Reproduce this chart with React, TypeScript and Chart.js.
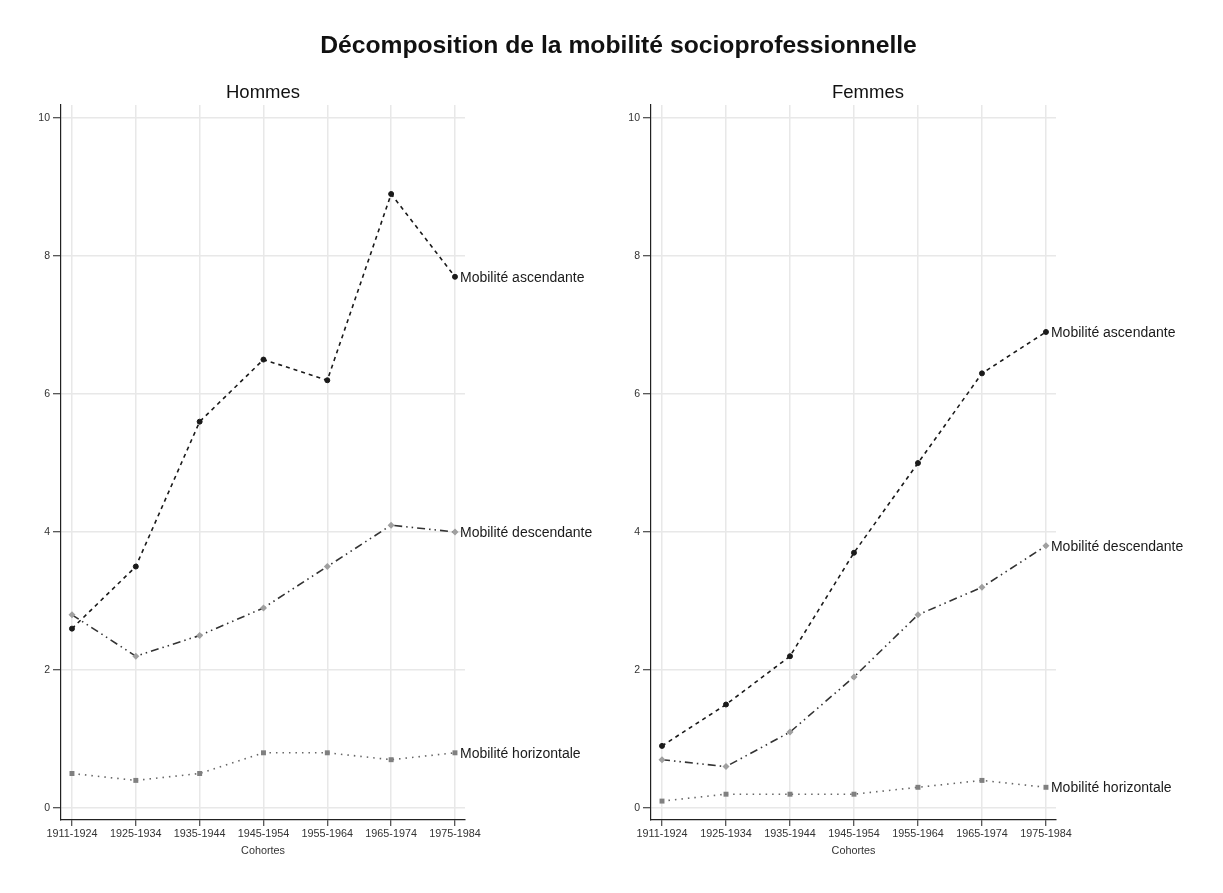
import React, { useEffect, useRef } from "react";
import { Chart, registerables } from "chart.js";

Chart.register(...registerables);

const cohortes = ["1911-1924", "1925-1934", "1935-1944", "1945-1954", "1955-1964", "1965-1974", "1975-1984"];
const yTicks = [0, 2, 4, 6, 8, 10];

const hommesAscendante = [2.6, 3.5, 5.6, 6.5, 6.2, 8.9, 7.7];
const hommesDescendante = [2.8, 2.2, 2.5, 2.9, 3.5, 4.1, 4.0];
const hommesHorizontale = [0.5, 0.4, 0.5, 0.8, 0.8, 0.7, 0.8];

const femmesAscendante = [0.9, 1.5, 2.2, 3.7, 5.0, 6.3, 6.9];
const femmesDescendante = [0.7, 0.6, 1.1, 1.9, 2.8, 3.2, 3.8];
const femmesHorizontale = [0.1, 0.2, 0.2, 0.2, 0.3, 0.4, 0.3];

const seriesLabels = ["Mobilité ascendante", "Mobilité descendante", "Mobilité horizontale"];

const FONT = "'Liberation Sans', Arial, Helvetica, sans-serif";

const endLabels = {
  id: "endLabels",
  afterDatasetsDraw(chart: any) {
    const ctx = chart.ctx;
    ctx.save();
    ctx.font = `14px ${FONT}`;
    ctx.fillStyle = "#1a1a1a";
    ctx.textAlign = "left";
    ctx.textBaseline = "middle";
    chart.data.datasets.forEach((ds: any, i: number) => {
      const meta = chart.getDatasetMeta(i);
      const pt = meta.data[meta.data.length - 1];
      if (pt) ctx.fillText(ds.label, pt.x + 5, pt.y + 1);
    });
    ctx.restore();
  },
};

function toXY(vals: number[]) {
  return vals.map((v, i) => ({ x: i, y: v }));
}

function Panel({ asc, desc, hor, padLeft, padRight }: any) {
  const ref = useRef<HTMLCanvasElement>(null);
  useEffect(() => {
    if (!ref.current) return;
    const chart = new Chart(ref.current, {
      type: "line",
      data: {
        datasets: [
          {
            label: seriesLabels[0],
            data: toXY(asc),
            borderColor: "#1a1a1a",
            borderWidth: 1.6,
            borderDash: [4, 4],
            pointStyle: "circle",
            pointRadius: 2.5,
            pointBackgroundColor: "#1a1a1a",
            pointBorderColor: "#1a1a1a",
            pointBorderWidth: 1,
            tension: 0,
          },
          {
            label: seriesLabels[1],
            data: toXY(desc),
            borderColor: "#333",
            borderWidth: 1.6,
            borderDash: [8, 4, 1.5, 4, 1.5, 4],
            pointStyle: "rectRot",
            pointRadius: 3.5,
            pointBackgroundColor: "#a0a0a0",
            pointBorderColor: "#a0a0a0",
            pointBorderWidth: 0,
            tension: 0,
          },
          {
            label: seriesLabels[2],
            data: toXY(hor),
            borderColor: "#666",
            borderWidth: 1.6,
            borderDash: [1.5, 5],
            pointStyle: "rect",
            pointRadius: 3.5,
            pointBackgroundColor: "#808080",
            pointBorderColor: "#808080",
            pointBorderWidth: 0,
            tension: 0,
          },
        ],
      },
      options: {
        animation: false,
        responsive: false,
        maintainAspectRatio: false,
        layout: { padding: { left: padLeft, right: padRight, top: 105, bottom: 31 } },
        plugins: { legend: { display: false }, title: { display: false }, tooltip: { enabled: false } },
        scales: {
          x: {
            type: "linear",
            min: -0.172,
            max: 6.157,
            afterBuildTicks: (scale: any) => {
              scale.ticks = cohortes.map((_, i) => ({ value: i }));
            },
            afterFit: (scale: any) => {
              scale.height = 42;
            },
            ticks: {
              callback: (v: any) => cohortes[v] ?? "",
              font: { family: FONT, size: 10.8 },
              color: "#333",
              padding: 2,
              maxRotation: 0,
              autoSkip: false,
            },
            grid: { color: "#e8e8e8", lineWidth: 1.5, tickColor: "#222", tickLength: 6, tickWidth: 1 },
            border: { color: "#222", width: 1.2 },
            title: { display: true, text: "Cohortes", font: { family: FONT, size: 10.8 }, color: "#333", padding: { top: 0, bottom: 4 } },
          },
          y: {
            type: "linear",
            min: -0.174,
            max: 10.19,
            afterBuildTicks: (scale: any) => {
              scale.ticks = yTicks.map((v) => ({ value: v }));
            },
            afterFit: (scale: any) => {
              scale.width = 30;
            },
            ticks: {
              font: { family: FONT, size: 10.5 },
              color: "#333",
              padding: 3,
              includeBounds: false,
            },
            grid: { color: "#e8e8e8", lineWidth: 1.5, tickColor: "#222", tickLength: 8, tickWidth: 1 },
            border: { color: "#222", width: 1.2 },
          },
        },
      },
      plugins: [endLabels],
    } as any);
    return () => chart.destroy();
  }, []);
  return <canvas ref={ref} width={611} height={893} style={{ display: "block", width: 611, height: 893 }} />;
}

export default function App() {
  return (
    <div style={{ position: "fixed", left: 0, top: 0, width: 1223, height: 893, background: "#fff", fontFamily: FONT }}>
      <div style={{ position: "absolute", left: 0, top: 0 }}>
        <Panel asc={hommesAscendante} desc={hommesDescendante} hor={hommesHorizontale} padLeft={31} padRight={146} />
      </div>
      <div style={{ position: "absolute", left: 612, top: 0 }}>
        <Panel asc={femmesAscendante} desc={femmesDescendante} hor={femmesHorizontale} padLeft={9} padRight={167} />
      </div>
      <div style={{ position: "absolute", left: 0, top: 30, width: 1237, textAlign: "center", fontSize: 24.7, lineHeight: "30px", fontWeight: "bold", color: "#111" }}>
        Décomposition de la mobilité socioprofessionnelle
      </div>
      <div style={{ position: "absolute", left: 163, top: 81, width: 200, textAlign: "center", fontSize: 18.5, lineHeight: "22px", color: "#111" }}>
        Hommes
      </div>
      <div style={{ position: "absolute", left: 768, top: 81, width: 200, textAlign: "center", fontSize: 18.5, lineHeight: "22px", color: "#111" }}>
        Femmes
      </div>
    </div>
  );
}
